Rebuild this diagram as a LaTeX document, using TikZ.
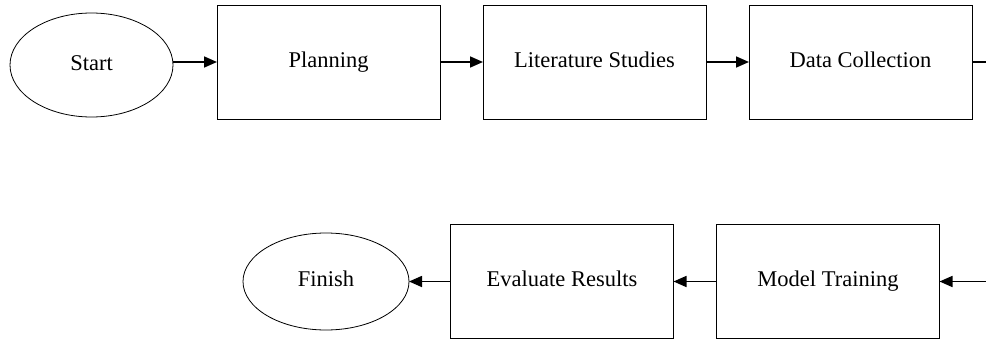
\documentclass[tikz,border=0pt]{standalone}
\usepackage{fontspec}
\setmainfont{Liberation Serif}
\usetikzlibrary{shapes.geometric,arrows.meta}
\begin{document}
\begin{tikzpicture}[x=1pt,y=-1pt,
  every node/.style={font=\fontsize{22.5}{27}\selectfont, inner sep=0pt, outer sep=0pt, text height=15.5pt, text depth=5pt},
  procbox/.style={draw=black, line width=1pt, minimum width=223pt, minimum height=114pt},
  termnode/.style={draw=black, line width=0.8pt, ellipse},
  flow/.style={line width=1.6pt, -{Triangle[length=13pt,width=11pt]}},
  plain/.style={line width=1.6pt}]
\useasboundingbox (0,0) rectangle (986,340);
\node[termnode, minimum width=163pt, minimum height=104pt] (start) at (91.5,65) {Start};
\node[procbox] (plan) at (328.5,62) {Planning};
\node[procbox] (lit) at (594.5,62) {Literature Studies};
\node[procbox] (data) at (860.5,62) {Data Collection};
\coordinate (outR) at (990,62);
\coordinate (inR) at (990,281.5);
\node[procbox] (train) at (828,281.5) {Model Training};
\node[procbox] (eval) at (562,281.5) {Evaluate Results};
\node[termnode, minimum width=166pt, minimum height=97pt] (finish) at (326,281.5) {Finish};
\draw[flow] (start.east |- plan.west) -- (plan.west);
\draw[flow] (plan) -- (lit);
\draw[flow] (lit) -- (data);
\draw[plain] (data.east) -- (outR);
\draw[flow] (inR) -- (train.east);
\draw[flow] (train) -- (eval);
\draw[flow] (eval) -- (finish);
\end{tikzpicture}
\end{document}
